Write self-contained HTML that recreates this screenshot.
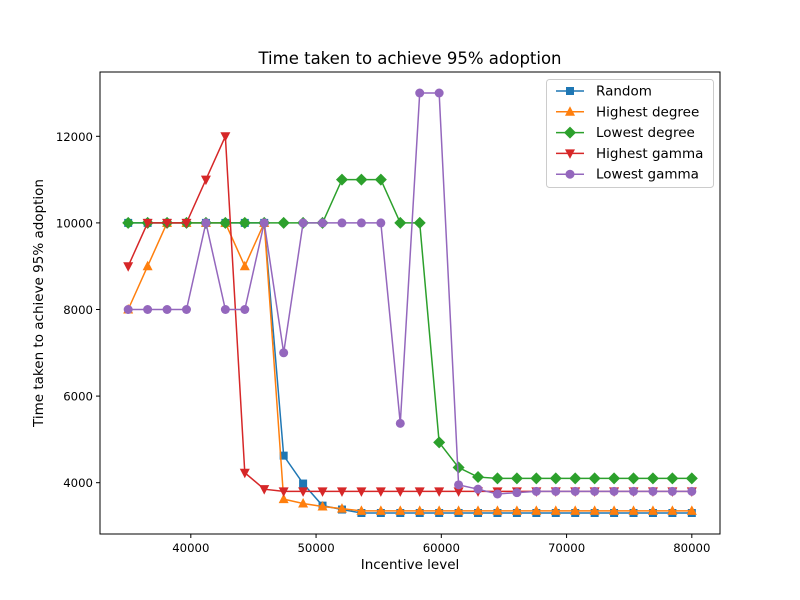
<!DOCTYPE html>
<html><head><meta charset="utf-8"><style>body{margin:0;background:#fff}svg{display:block;font-family:"DejaVu Sans","Liberation Sans",sans-serif}</style></head>
<body>
<svg id="chart" width="800" height="600">
<text x="410" y="64" text-anchor="middle" font-size="16.5">Time taken to achieve 95% adoption</text>
<text x="410" y="569" text-anchor="middle" font-size="13.5">Incentive level</text>
<text transform="translate(43,303) rotate(-90)" text-anchor="middle" font-size="13.5">Time taken to achieve 95% adoption</text>
<g id="axes"></g>
<g id="series"></g>
<rect x="100" y="72" width="620" height="462" fill="none" stroke="#000" stroke-width="1"/>
<g id="legend"></g>
</svg>
<script>
const seriesNames = ["Random","Highest degree","Lowest degree","Highest gamma","Lowest gamma"];
const colors = ["#1f77b4","#ff7f0e","#2ca02c","#d62728","#9467bd"];
const markers = ["square","tri-up","diamond","tri-down","circle"];
const xTicks = [40000,50000,60000,70000,80000];
const yTicks = [4000,6000,8000,10000,12000];
const randomVals = [10000,10000,10000,10000,10000,10000,10000,10000,4625,3980,3470,3380,3300,3300,3300,3300,3300,3300,3300,3300,3300,3300,3300,3300,3300,3300,3300,3300,3300,3300];
const highDegVals = [8000,9000,10000,10000,10000,10000,9000,10000,3620,3520,3450,3400,3350,3350,3350,3350,3350,3350,3350,3350,3350,3350,3350,3350,3350,3350,3350,3350,3350,3350];
const lowDegVals = [10000,10000,10000,10000,10000,10000,10000,10000,10000,10000,10000,11000,11000,11000,10000,10000,4930,4350,4130,4100,4100,4100,4100,4100,4100,4100,4100,4100,4100,4100];
const highGamVals = [9000,10000,10000,10000,11000,12000,4230,3850,3800,3800,3800,3800,3800,3800,3800,3800,3800,3800,3800,3800,3800,3800,3800,3800,3800,3800,3800,3800,3800,3800];
const lowGamVals = [8000,8000,8000,8000,10000,8000,8000,10000,7000,10000,10000,10000,10000,10000,5370,13000,13000,3950,3850,3740,3770,3800,3800,3800,3800,3800,3800,3800,3800,3800];
const allSeries = [randomVals,highDegVals,lowDegVals,highGamVals,lowGamVals];
const xMin=35000,xMax=80000;
const NS="http://www.w3.org/2000/svg";
function xs(v){return 100+(v-32750)/(82250-32750)*620;}
function ys(v){const lo=2815,hi=13485;return 534-(v-lo)/(hi-lo)*462;}
function mk(tag,attrs,parent){const e=document.createElementNS(NS,tag);for(const k in attrs)e.setAttribute(k,attrs[k]);parent.appendChild(e);return e;}
function marker(type,x,y,c,parent){
 let e;
 if(type==="square"){e=mk("rect",{x:x-4,y:y-4,width:8,height:8,fill:c},parent);}
 else if(type==="circle"){e=mk("circle",{cx:x,cy:y,r:4.5,fill:c},parent);}
 else if(type==="diamond"){e=mk("polygon",{points:`${x},${y-6} ${x+6},${y} ${x},${y+6} ${x-6},${y}`,fill:c},parent);}
 else if(type==="tri-up"){e=mk("polygon",{points:`${x},${y-5.5} ${x+5},${y+4} ${x-5},${y+4}`,fill:c},parent);}
 else {e=mk("polygon",{points:`${x},${y+5.5} ${x+5},${y-4} ${x-5},${y-4}`,fill:c},parent);}
 return e;
}
const axes=document.getElementById("axes");
xTicks.forEach(t=>{const x=xs(t);
 const l=mk("line",{x1:x,x2:x,y1:534,y2:538,stroke:"#000"},axes);
 
 
 const tx=mk("text",{x:x,y:552,"text-anchor":"middle","font-size":"11.7"},axes);tx.textContent=t;
 
 
});
yTicks.forEach(t=>{const y=ys(t);
 const l=mk("line",{x1:96,x2:100,y1:y,y2:y,stroke:"#000"},axes);
 
 
 const tx=mk("text",{x:93,y:y+4.5,"text-anchor":"end","font-size":"11.7"},axes);tx.textContent=t;
 
 
});
const sg=document.getElementById("series");
allSeries.forEach((vals,si)=>{
 const g=mk("g",{},sg);
 
 
 const n=vals.length;
 const pts=vals.map((v,i)=>[xs(xMin+(xMax-xMin)*i/(n-1)),ys(v)]);
 const pl=mk("polyline",{points:pts.map(p=>p.join(",")).join(" "),fill:"none",stroke:colors[si],"stroke-width":1.5},g);
 
 
 pts.forEach(p=>{const m=marker(markers[si],p[0],p[1],colors[si],g);
  
  });
});
const lg=document.getElementById("legend");
mk("rect",{x:546.5,y:79.5,width:167,height:108,rx:3,fill:"#fff",stroke:"#ccc","fill-opacity":0.8},lg);
seriesNames.forEach((nm,i)=>{
 const y=91+i*20.8;
 const g=mk("g",{},lg);
 
 
 mk("line",{x1:556,x2:584,y1:y,y2:y,stroke:colors[i],"stroke-width":1.5},g);
 marker(markers[i],570,y,colors[i],g);
 const t=mk("text",{x:596,y:y+4.5,"font-size":"13.5"},g);t.textContent=nm;
});
</script>
</body></html>
